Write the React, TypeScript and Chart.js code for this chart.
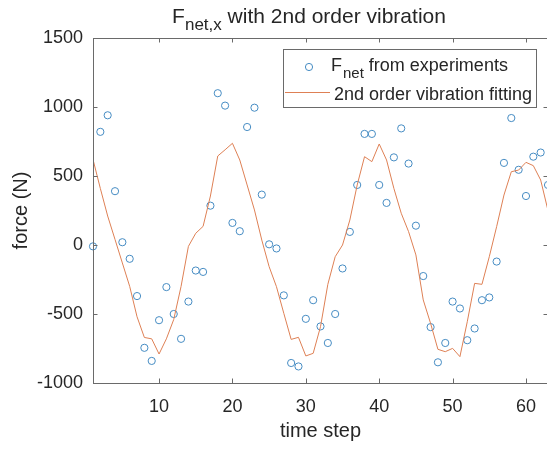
import React, { useEffect, useRef } from 'react';
import { Chart, registerables } from 'chart.js';

Chart.register(...registerables);

const FONT = '"Liberation Sans", Arial, Helvetica, sans-serif';
const TEXT = '#262626';
const AXIS = '#6a6a6a';
const BLUE = 'rgb(70,140,195)';
const ORANGE = 'rgb(222,128,85)';

const timeSteps = [
  1, 2, 3, 4, 5, 6, 7, 8, 9, 10, 11, 12, 13, 14, 15, 16, 17, 18, 19, 20, 21,
  22, 23, 24, 25, 26, 27, 28, 29, 30, 31, 32, 33, 34, 35, 36, 37, 38, 39, 40,
  41, 42, 43, 44, 45, 46, 47, 48, 49, 50, 51, 52, 53, 54, 55, 56, 57, 58, 59,
  60, 61, 62, 63,
];

const experimentForce = [
  -10, 820, 940, 390, 20, -100, -370, -745, -840, -545, -305, -500, -680, -410,
  -185, -195, 285, 1100, 1010, 160, 100, 855, 995, 365, 5, -25, -365, -855,
  -880, -535, -400, -590, -710, -500, -170, 95, 435, 805, 805, 435, 305, 635,
  845, 590, 140, -225, -595, -850, -710, -410, -460, -690, -605, -400, -380,
  -120, 595, 920, 545, 355, 640, 670, 435,
];

const fittedForce = [
  620, 410, 210, 40, -130, -300, -520, -670, -680, -790, -680, -540, -300, -10,
  85, 135, 355, 645, 690, 737, 616, 435, 254, 36, -157, -302, -495, -684, -669,
  -804, -785, -592, -285, -85, 0, 181, 435, 640, 604, 732, 616, 410, 230, 97,
  -72, -398, -568, -756, -773, -749, -809, -556, -278, -285, -85, 133, 362,
  531, 543, 599, 575, 471, 250,
];

const xTickValues = [10, 20, 30, 40, 50, 60];
const yTickValues = [-1000, -500, 0, 500, 1000, 1500];

const titleMain = 'F';
const titleSub = 'net,x';
const titleRest = ' with 2nd order vibration';
const legendPointMain = 'F';
const legendPointSub = 'net';
const legendPointRest = ' from experiments';
const legendLineText = '2nd order vibration fitting';
const xLabel = 'time step';
const yLabel = 'force (N)';

const CANVAS_W = 560;
const CANVAS_H = 450;

const framePlugin = {
  id: 'matlabFrame',
  afterDraw(chart: any) {
    const { ctx, chartArea } = chart;
    const { left, right, top, bottom } = chartArea;
    const xs = chart.scales.x;
    const ys = chart.scales.y;
    ctx.save();
    ctx.strokeStyle = AXIS;
    ctx.lineWidth = 1;
    ctx.beginPath();
    ctx.rect(Math.round(left) + 0.5, Math.round(top) + 0.5, Math.round(right - left), Math.round(bottom - top));
    ctx.stroke();
    const tl = 4.5;
    ctx.beginPath();
    for (const v of xTickValues) {
      const px = Math.round(xs.getPixelForValue(v)) + 0.5;
      ctx.moveTo(px, bottom);
      ctx.lineTo(px, bottom - tl);
      ctx.moveTo(px, top);
      ctx.lineTo(px, top + tl);
    }
    for (const v of yTickValues) {
      const py = Math.round(ys.getPixelForValue(v)) + 0.5;
      ctx.moveTo(left, py);
      ctx.lineTo(left + tl, py);
      ctx.moveTo(right, py);
      ctx.lineTo(right - tl, py);
    }
    ctx.stroke();

    // Title with subscript
    ctx.fillStyle = TEXT;
    ctx.textBaseline = 'alphabetic';
    ctx.textAlign = 'left';
    ctx.font = `21px ${FONT}`;
    const wMain = ctx.measureText(titleMain).width;
    const wRest = ctx.measureText(titleRest).width;
    ctx.font = `17px ${FONT}`;
    const wSub = ctx.measureText(titleSub).width;
    const total = wMain + wSub + wRest;
    let tx = 309 - total / 2;
    const tBase = 23;
    ctx.font = `21px ${FONT}`;
    ctx.fillText(titleMain, tx, tBase);
    tx += wMain;
    ctx.font = `17px ${FONT}`;
    ctx.fillText(titleSub, tx, tBase + 7);
    tx += wSub;
    ctx.font = `21px ${FONT}`;
    ctx.fillText(titleRest, tx, tBase);

    // Legend
    const lx = 283.5, ly = 49.5, lw = 253, lh = 58;
    ctx.fillStyle = '#ffffff';
    ctx.fillRect(lx, ly, lw, lh);
    ctx.strokeStyle = AXIS;
    ctx.strokeRect(lx, ly, lw, lh);
    ctx.strokeStyle = BLUE;
    ctx.lineWidth = 1;
    ctx.beginPath();
    ctx.arc(309, 67, 3.6, 0, Math.PI * 2);
    ctx.stroke();
    ctx.strokeStyle = ORANGE;
    ctx.beginPath();
    ctx.moveTo(285, 92.5);
    ctx.lineTo(330, 92.5);
    ctx.stroke();
    ctx.fillStyle = TEXT;
    let gx = 331;
    ctx.font = `18px ${FONT}`;
    ctx.fillText(legendPointMain, gx, 71);
    gx += ctx.measureText(legendPointMain).width + 1;
    ctx.font = `15px ${FONT}`;
    ctx.fillText(legendPointSub, gx, 78);
    gx += ctx.measureText(legendPointSub).width;
    ctx.font = `18px ${FONT}`;
    ctx.fillText(legendPointRest, gx, 71);
    ctx.fillText(legendLineText, 334, 99.5);
    ctx.restore();
  },
};

export default function App() {
  const ref = useRef<HTMLCanvasElement | null>(null);

  useEffect(() => {
    if (!ref.current) return;
    const points = timeSteps.map((t, i) => ({ x: t, y: experimentForce[i] }));
    const fit = timeSteps.map((t, i) => ({ x: t, y: fittedForce[i] }));
    const chart = new Chart(ref.current, {
      type: 'scatter',
      data: {
        datasets: [
          {
            label: legendLineText,
            data: fit,
            showLine: true,
            borderColor: ORANGE,
            borderWidth: 1,
            pointRadius: 0,
            fill: false,
            tension: 0,
          } as any,
          {
            label: 'Fnet from experiments',
            data: points,
            showLine: false,
            pointStyle: 'circle',
            pointRadius: 3.6,
            pointBorderWidth: 1,
            pointBorderColor: BLUE,
            pointBackgroundColor: 'rgba(0,0,0,0)',
            borderColor: BLUE,
            backgroundColor: 'rgba(0,0,0,0)',
            clip: false,
          } as any,
        ],
      },
      options: {
        responsive: false,
        animation: false,
        devicePixelRatio: 1,
        layout: { padding: { left: 0, right: CANVAS_W - 548, top: 38, bottom: 0 } },
        plugins: {
          legend: { display: false },
          title: { display: false },
          tooltip: { enabled: false },
        },
        scales: {
          x: {
            type: 'linear',
            min: 1,
            max: 63,
            afterBuildTicks: (scale: any) => {
              scale.ticks = xTickValues.map((v) => ({ value: v }));
            },
            afterFit: (scale: any) => {
              scale.height = CANVAS_H - 383;
            },
            grid: { display: false, drawTicks: false },
            border: { display: false },
            ticks: {
              color: TEXT,
              font: { family: FONT, size: 18 },
              padding: 13,
              maxRotation: 0,
              autoSkip: false,
              callback: (v: any) => String(v),
            },
            title: {
              display: true,
              text: xLabel,
              color: TEXT,
              font: { family: FONT, size: 20 },
              padding: { top: 0, bottom: 7 },
            },
          },
          y: {
            type: 'linear',
            min: -1000,
            max: 1500,
            afterBuildTicks: (scale: any) => {
              scale.ticks = yTickValues.map((v) => ({ value: v }));
            },
            afterFit: (scale: any) => {
              scale.width = 93;
            },
            grid: { display: false, drawTicks: false },
            border: { display: false },
            ticks: {
              color: TEXT,
              font: { family: FONT, size: 18 },
              padding: 10,
              autoSkip: false,
              callback: (v: any) => String(v),
            },
            title: {
              display: true,
              text: yLabel,
              color: TEXT,
              font: { family: FONT, size: 20 },
              padding: { top: 9, bottom: 0 },
            },
          },
        },
      },
      plugins: [framePlugin],
    });
    return () => chart.destroy();
  }, []);

  return (
    <div
      style={{
        position: 'fixed',
        left: 0,
        top: 0,
        width: 547,
        height: 450,
        overflow: 'hidden',
        background: '#ffffff',
      }}
    >
      <canvas ref={ref} width={CANVAS_W} height={CANVAS_H} style={{ display: 'block' }} />
    </div>
  );
}
